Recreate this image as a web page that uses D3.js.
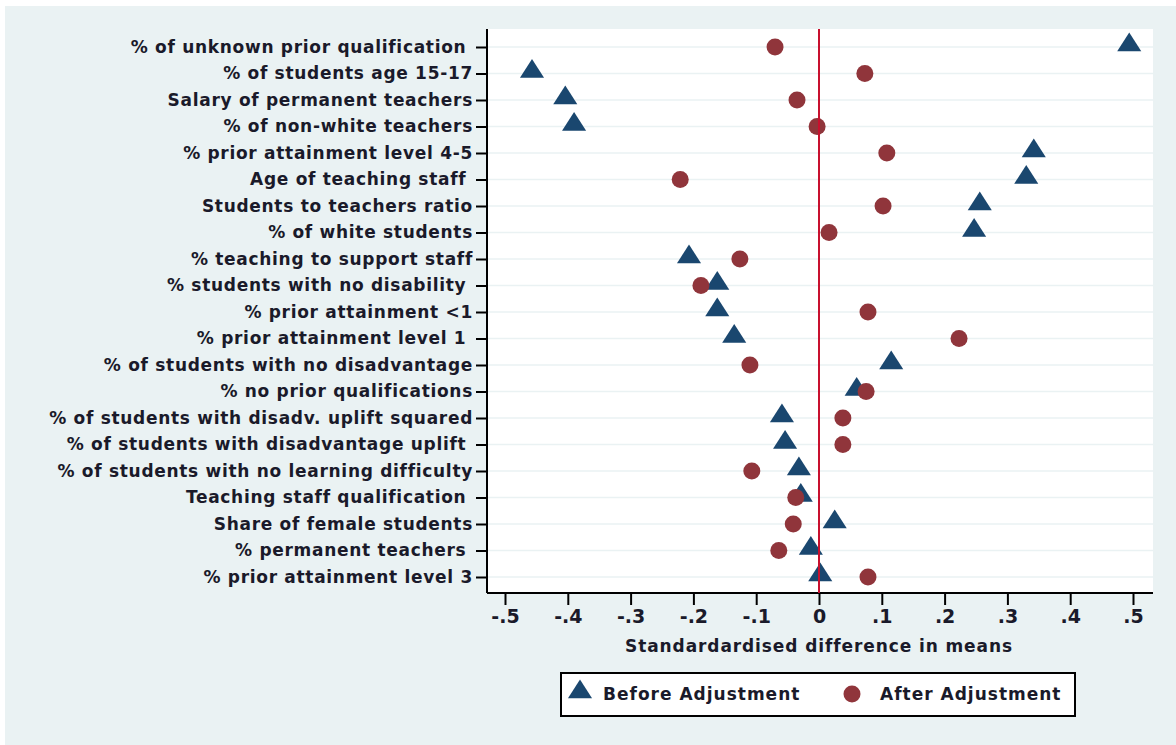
<!DOCTYPE html>
<html>
<head>
<meta charset="utf-8">
<script src="https://cdn.jsdelivr.net/npm/d3@7"></script>
<style>
  body { margin: 0; background: #fff; }
  svg { display: block; font-family: "DejaVu Sans", sans-serif; font-weight: bold; }
</style>
</head>
<body>
<svg id="chart"></svg>
<script>
const variables = [
  '% of unknown prior qualification\u00a0',
  '% of students age 15-17',
  'Salary of permanent teachers',
  '% of non-white teachers',
  '% prior attainment level 4-5',
  'Age of teaching staff\u00a0',
  'Students to teachers ratio',
  '% of white students',
  '% teaching to support staff',
  '% students with no disability\u00a0',
  '% prior attainment <1',
  '% prior attainment level 1\u00a0',
  '% of students with no disadvantage',
  '% no prior qualifications',
  '% of students with disadv. uplift squared',
  '% of students with disadvantage uplift\u00a0',
  '% of students with no learning difficulty',
  'Teaching staff qualification\u00a0',
  'Share of female students',
  '% permanent teachers\u00a0',
  '% prior attainment level 3'
]
const before = [0.494, -0.457, -0.404, -0.39, 0.342, 0.33, 0.256, 0.247, -0.207, -0.162, -0.162,
  -0.135, 0.115, 0.06, -0.059, -0.054, -0.032, -0.029, 0.025, -0.013, 0.002]
const after = [-0.07, 0.073, -0.035, -0.003, 0.108, -0.221, 0.102, 0.016, -0.126, -0.188, 0.078,
  0.223, -0.11, 0.075, 0.038, 0.038, -0.107, -0.037, -0.041, -0.064, 0.078]
const xTicks = [-0.5, -0.4, -0.3, -0.2, -0.1, 0, 0.1, 0.2, 0.3, 0.4, 0.5]
const seriesNames = ['Before Adjustment', 'After Adjustment']

const width = 1176
const height = 745
const navy = '#1a476f'
const maroon = '#90353b'
const textColor = '#1a1a2a'
const plot = {left: 487, right: 1153, top: 29, bottom: 593}

const svg = d3.select('#chart')
    .attr('width', width)
    .attr('height', height)

svg.append('rect')
    .attr('x', 5).attr('y', 6)
    .attr('width', width - 5).attr('height', height - 6)
    .attr('fill', '#eaf2f3')

svg.append('rect')
    .attr('x', plot.left).attr('y', plot.top)
    .attr('width', plot.right - plot.left).attr('height', plot.bottom - plot.top)
    .attr('fill', '#fff')

const xScale = d3.scaleLinear()
    .domain([-0.5, 0.5])
    .range([505, 1133])
const yScale = d3.scalePoint()
    .domain(variables)
    .range([47, 577])

// stata style: -.5 .. .5, plain hyphen
const fmt = d => d === 0 ? '0' : d.toFixed(1).replace('0.', '.')

// gridlines
svg.append('g').selectAll('line').data(variables)
    .enter().append('line')
        .attr('x1', plot.left).attr('x2', plot.right)
        .attr('y1', d => yScale(d)).attr('y2', d => yScale(d))
        .attr('stroke', '#eaf2f3')
        .attr('stroke-width', 1.5)

// left axis
const yAxis = svg.append('g')
    .attr('transform', `translate(${plot.left},0)`)
    .call(d3.axisLeft(yScale).tickSize(11).tickPadding(3))
yAxis.select('.domain').remove()
yAxis.append('line')
    .attr('y1', plot.top).attr('y2', plot.bottom)
    .attr('stroke', '#000').attr('stroke-width', 2)
yAxis.selectAll('.tick line').attr('stroke', '#000').attr('stroke-width', 2)
yAxis.selectAll('.tick text')
    .attr('font-size', 17)
    .attr('letter-spacing', 0.7)
    .attr('fill', textColor)
    .attr('font-family', '"DejaVu Sans", sans-serif')
    .attr('font-weight', 'bold')
    .style('white-space', 'pre')

// bottom axis
const xAxis = svg.append('g')
    .attr('transform', `translate(0,${plot.bottom})`)
    .call(d3.axisBottom(xScale).tickValues(xTicks).tickFormat(fmt).tickSize(12).tickPadding(5))
xAxis.select('.domain').remove()
xAxis.append('line')
    .attr('x1', plot.left).attr('x2', plot.right)
    .attr('stroke', '#000').attr('stroke-width', 2)
xAxis.selectAll('.tick line').attr('stroke', '#000').attr('stroke-width', 2)
xAxis.selectAll('.tick text')
    .attr('font-size', 19)
    .attr('fill', textColor)
    .attr('font-family', '"DejaVu Sans", sans-serif')
    .attr('font-weight', 'bold')

svg.append('text')
    .attr('x', xScale(0)).attr('y', 652)
    .attr('text-anchor', 'middle')
    .attr('font-size', 17)
    .attr('letter-spacing', 0.9)
    .attr('fill', textColor)
    .text('Standardardised difference in means')

const tri = d3.symbol().type(d3.symbolTriangle).size(200)

svg.append('g').selectAll('path').data(before)
    .enter().append('path')
        .attr('d', tri)
        .attr('fill', navy)
        .attr('transform', (d, i) => `translate(${xScale(d)},${yScale(variables[i]) - 2}) scale(1.12,1)`)

svg.append('g').selectAll('circle').data(after)
    .enter().append('circle')
        .attr('cx', d => xScale(d))
        .attr('cy', (d, i) => yScale(variables[i]))
        .attr('r', 8.5)
        .attr('fill', maroon)

svg.append('line')
    .attr('x1', xScale(0)).attr('x2', xScale(0))
    .attr('y1', plot.top).attr('y2', plot.bottom)
    .attr('stroke', '#c8102e')
    .attr('stroke-width', 2)

// legend
svg.append('rect')
    .attr('x', 561).attr('y', 673)
    .attr('width', 514).attr('height', 43)
    .attr('fill', '#fff')
    .attr('stroke', '#000')
    .attr('stroke-width', 2)
const legend = svg.append('g')
legend.append('path')
    .attr('d', tri)
    .attr('fill', navy)
    .attr('transform', 'translate(580,692) scale(1.12,1)')
legend.append('circle')
    .attr('cx', 852).attr('cy', 694).attr('r', 8.5)
    .attr('fill', maroon)
legend.selectAll('text').data(seriesNames)
    .enter().append('text')
        .attr('x', (d, i) => i === 0 ? 603 : 880)
        .attr('y', 700)
        .attr('font-size', 17)
        .attr('letter-spacing', 1)
        .attr('fill', textColor)
        .text(d => d)
</script>
</body>
</html>
